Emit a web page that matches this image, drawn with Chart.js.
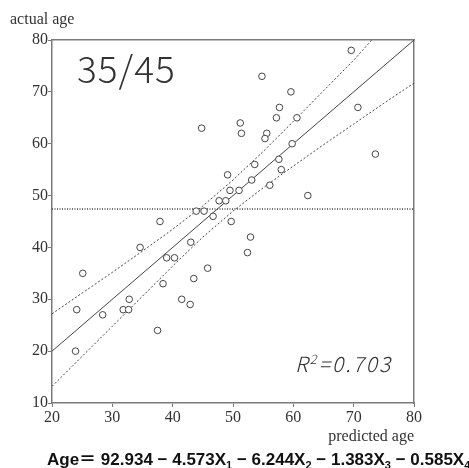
<!DOCTYPE html>
<html>
<head>
<meta charset="utf-8">
<script src="https://cdn.jsdelivr.net/npm/chart.js@4/dist/chart.umd.min.js"></script>
<style>
  html, body { margin: 0; padding: 0; background: #fff; }
  #chart { display: block; }
</style>
</head>
<body>
<canvas id="chart" width="469" height="468"></canvas>
<script>
// Data ------------------------------------------------------------------------------

var predictedAge = [69.6, 54.8, 59.6, 57.7, 70.7, 57.2, 60.6, 51.2, 44.8, 51.4, 55.6, 55.3, 59.8,
                    73.6, 57.6, 53.6, 58.0, 49.1, 53.1, 56.1, 49.5, 51.0, 62.4, 47.7, 48.8, 43.9,
                    45.2, 46.7, 37.9, 49.7, 52.9, 43.0, 34.6, 52.4, 39.0, 40.3, 45.8, 25.1, 43.5,
                    38.4, 32.8, 41.5, 42.9, 24.1, 31.8, 32.7, 28.4, 37.5, 23.9];
var actualAge    = [78, 73, 70, 67, 67, 65, 65, 64, 63, 62, 62, 61, 60,
                    58, 57, 56, 55, 54, 53, 52, 51, 51, 50, 49, 49, 47,
                    47, 46, 45, 45, 42, 41, 40, 39, 38, 38, 36, 35, 34,
                    33, 30, 30, 29, 28, 28, 28, 27, 24, 20];

var fitX = [20, 50, 80];
var fitY = [20, 50, 80];

var upperX = [20, 25, 30, 35, 40, 45, 50, 55, 60, 65, 70, 73];
var upperY = [27.2, 31.2, 35.2, 39.3, 43.5, 48.0, 53.0, 58.5, 64.3, 70.2, 76.1, 80];

var lowerX = [20, 25, 30, 35, 40, 45, 50, 55, 60, 65, 70, 75, 80];
var lowerY = [13.2, 19.0, 24.8, 30.6, 36.4, 42.0, 47.0, 51.5, 55.7, 59.8, 63.8, 67.8, 71.7];

var meanX = [20, 80];
var meanY = [47.4, 47.4];

var xTicks = [20, 30, 40, 50, 60, 70, 80];
var yTicks = [10, 20, 30, 40, 50, 60, 70, 80];

var ratioText = '35/45';
var r2Label = 'R';
var r2Power = '2';
var r2Value = '=0.703';
var formulaParts = [
    ['Age\uFF1D 92.934 \u2212 4.573X', false], ['1', true],
    [' \u2212 6.244X', false], ['2', true],
    [' \u2212 1.383X', false], ['3', true],
    [' \u2212 0.585X', false], ['4', true]
];

// Helpers ---------------------------------------------------------------------------

var INK = '#444';
var FRAME = '#7a7a7a';
var SERIF = '"Liberation Serif", "DejaVu Serif", serif';
var LIGHT_SANS = '"Noto Sans CJK JP", "Noto Sans", sans-serif';

function toPoints(xs, ys) {
    return xs.map(function (x, i) { return { x: x, y: ys[i] }; });
}

function lineDataset(xs, ys, dash, width) {
    return {
        data: toPoints(xs, ys),
        showLine: true,
        pointRadius: 0,
        borderColor: INK,
        borderWidth: width,
        borderDash: dash,
        fill: false
    };
}

function frameAxis(position) {
    return {
        type: 'linear',
        position: position,
        min: position === 'top' ? 20 : 10,
        max: 80,
        ticks: { display: false },
        grid: { display: false, drawTicks: false },
        border: { display: true, color: FRAME, width: 1.5 },
        afterFit: function (scale) {
            if (position === 'top') { scale.height = 0; } else { scale.width = 0; }
        }
    };
}

var textPlugin = {
    id: 'chartTexts',
    afterDraw: function (chart) {
        var ctx = chart.ctx;
        var area = chart.chartArea;
        ctx.save();
        ctx.fillStyle = '#333';

        ctx.font = '16px ' + SERIF;
        ctx.textBaseline = 'middle';
        ctx.textAlign = 'left';
        ctx.fillText('actual age', 10, 20);
        ctx.textAlign = 'right';
        ctx.fillText('predicted age', area.right, 437);

        ctx.textAlign = 'left';
        ctx.textBaseline = 'alphabetic';
        ctx.font = '300 37px ' + LIGHT_SANS;
        ctx.letterSpacing = '1px';
        ctx.fillText(ratioText, 77, 83);

        // R squared, italic with a raised 2
        ctx.letterSpacing = '2px';
        var x = 295;
        ctx.font = 'italic 300 21px ' + LIGHT_SANS;
        ctx.fillText(r2Label, x, 372);
        x += ctx.measureText(r2Label).width;
        ctx.font = 'italic 300 13px ' + LIGHT_SANS;
        ctx.fillText(r2Power, x, 364);
        x += ctx.measureText(r2Power).width;
        ctx.font = 'italic 300 21px ' + LIGHT_SANS;
        ctx.fillText(r2Value, x, 372);

        // regression formula with subscripts
        ctx.letterSpacing = '0px';
        ctx.fillStyle = '#111';
        x = 47;
        formulaParts.forEach(function (part) {
            ctx.font = part[1] ? 'bold 11px "Liberation Sans", sans-serif'
                               : 'bold 17px "Liberation Sans", "Noto Sans CJK JP", sans-serif';
            ctx.fillText(part[0], x, part[1] ? 469 : 465);
            x += ctx.measureText(part[0]).width;
        });
        ctx.restore();
    }
};

// Chart -----------------------------------------------------------------------------

var context = document.getElementById('chart').getContext('2d');

var chart = new Chart(context, {
    type: 'scatter',
    data: {
        datasets: [
            {
                data: toPoints(predictedAge, actualAge),
                pointStyle: 'circle',
                pointRadius: 3.3,
                borderWidth: 1,
                borderColor: INK,
                backgroundColor: '#fff'
            },
            lineDataset(fitX, fitY, [], 1),
            lineDataset(upperX, upperY, [2, 2], 1),
            lineDataset(lowerX, lowerY, [2, 2], 1),
            lineDataset(meanX, meanY, [1, 1.5], 1.5)
        ]
    },
    options: {
        responsive: false,
        animation: false,
        devicePixelRatio: 1,
        layout: { padding: { top: 40, right: 55, bottom: 41, left: 0 } },
        plugins: {
            legend: { display: false },
            tooltip: { enabled: false }
        },
        scales: {
            x: {
                type: 'linear',
                min: 20,
                max: 80,
                afterBuildTicks: function (scale) {
                    scale.ticks = xTicks.map(function (v) { return { value: v }; });
                },
                ticks: { color: '#333', padding: 1, font: { family: SERIF, size: 16 } },
                grid: { drawOnChartArea: false, drawTicks: true, tickLength: 4, color: FRAME },
                border: { color: FRAME, width: 1.5 },
                afterFit: function (scale) { scale.height = 24; }
            },
            y: {
                type: 'linear',
                min: 10,
                max: 80,
                afterBuildTicks: function (scale) {
                    scale.ticks = yTicks.map(function (v) { return { value: v }; });
                },
                ticks: { color: '#333', padding: 0, font: { family: SERIF, size: 16 } },
                grid: { drawOnChartArea: false, drawTicks: true, tickLength: 4, color: FRAME },
                border: { color: FRAME, width: 1.5 },
                afterFit: function (scale) { scale.width = 52; }
            },
            xTop: frameAxis('top'),
            yRight: frameAxis('right')
        }
    },
    plugins: [textPlugin]
});
</script>
</body>
</html>
